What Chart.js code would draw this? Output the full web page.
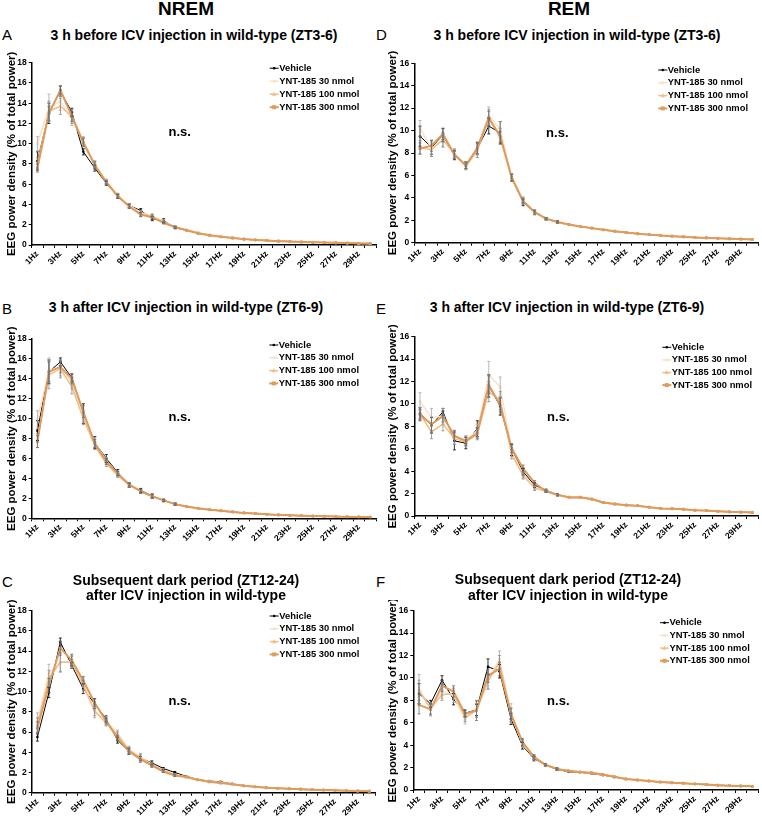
<!DOCTYPE html>
<html>
<head>
<meta charset="utf-8">
<script src="https://cdn.jsdelivr.net/npm/chart.js@4.4.1/dist/chart.umd.min.js"></script>
<style>
body { margin: 0; background: #fff; width: 762px; height: 821px; position: relative; overflow: hidden; font-family: "Liberation Sans", Arial, sans-serif; color: #000; }
canvas { position: absolute; }
.t { position: absolute; white-space: nowrap; z-index: 2; }
.head { font-weight: bold; font-size: 19px; line-height: 20px; width: 200px; text-align: center; }
.ptitle { font-weight: bold; font-size: 14px; line-height: 16px; width: 400px; text-align: center; }
.letter { font-size: 15px; line-height: 17px; }
</style>
</head>
<body>

<div class="t head" style="left:86px;top:-1px">NREM</div>
<div class="t head" style="left:469px;top:-1px">REM</div>

<div class="t letter" style="left:2px;top:26px">A</div>
<div class="t letter" style="left:376px;top:26px">D</div>
<div class="t letter" style="left:2px;top:300px">B</div>
<div class="t letter" style="left:376px;top:300px">E</div>
<div class="t letter" style="left:2px;top:573px">C</div>
<div class="t letter" style="left:376px;top:573px">F</div>

<div class="t ptitle" style="left:-6px;top:26.5px">3 h before ICV injection in wild-type (ZT3-6)</div>
<div class="t ptitle" style="left:377px;top:26.5px">3 h before ICV injection in wild-type (ZT3-6)</div>
<div class="t ptitle" style="left:-14px;top:299px">3 h after ICV injection in wild-type (ZT6-9)</div>
<div class="t ptitle" style="left:367px;top:299px">3 h after ICV injection in wild-type (ZT6-9)</div>
<div class="t ptitle" style="left:-14px;top:572.5px;line-height:15px">Subsequent dark period (ZT12-24)<br>after ICV injection in wild-type</div>
<div class="t ptitle" style="left:368px;top:571px;line-height:16px">Subsequent dark period (ZT12-24)<br>after ICV injection in wild-type</div>

<script>
const freqLabels = ['1Hz','2Hz','3Hz','4Hz','5Hz','6Hz','7Hz','8Hz','9Hz','10Hz','11Hz','12Hz','13Hz','14Hz','15Hz',
  '16Hz','17Hz','18Hz','19Hz','20Hz','21Hz','22Hz','23Hz','24Hz','25Hz','26Hz','27Hz','28Hz','29Hz','30Hz'];
const seriesNames = ['Vehicle', 'YNT-185 30 nmol', 'YNT-185 100 nmol', 'YNT-185 300 nmol'];
const nremTicksMax = 18;
const remTicksMax = 16;

// A - NREM, 3 h before (ZT3-6)
const nremBeforeVeh = [8.3,13.0,15.2,13.1,9.2,7.6,6.1,4.8,3.9,3.4,2.6,2.4,1.7,1.45,1.15,0.96,0.82,0.7,0.58,0.5,0.44,0.38,0.34,0.3,0.26,0.24,0.22,0.19,0.16,0.14];
const nremBefore30 = [10.0,13.6,14.2,12.4,10.3,7.9,6.3,4.9,3.9,3.2,2.9,2.3,1.8,1.5,1.2,0.98,0.83,0.71,0.6,0.51,0.45,0.39,0.35,0.31,0.27,0.25,0.22,0.2,0.17,0.15];
const nremBefore100 = [8.0,13.2,13.7,12.7,10.2,7.9,6.2,4.9,3.8,3.1,2.8,2.2,1.75,1.47,1.18,0.97,0.82,0.7,0.59,0.51,0.44,0.39,0.34,0.3,0.27,0.24,0.22,0.19,0.17,0.15];
const nremBefore300 = [7.6,13.0,15.3,12.7,10.1,7.9,6.2,4.8,3.8,3.0,2.75,2.2,1.75,1.45,1.17,0.96,0.81,0.69,0.58,0.5,0.44,0.38,0.34,0.3,0.26,0.24,0.22,0.19,0.16,0.14];
const nremBeforeVehErr = [0.9,1.0,0.5,0.4,0.3,0.3,0.2,0.2,0.2,0.2,0.2,0.2,0.1];
const nremBefore30Err = [0.7,1.3,0.9,0.6,0.4,0.3,0.2,0.2,0.2,0.2,0.2,0.2,0.1];
const nremBefore100Err = [0.6,1.0,0.8,0.7,0.4,0.3,0.2,0.2,0.2,0.3,0.2,0.1,0.1];
const nremBefore300Err = [0.4,0.7,0.4,0.5,0.4,0.4,0.2,0.2,0.2,0.2,0.2,0.1,0.1];

// B - NREM, 3 h after (ZT6-9)
const nremAfterVeh = [8.8,14.7,15.7,14.1,10.5,7.6,6.0,4.6,3.3,2.8,2.25,1.8,1.42,1.18,1.0,0.87,0.76,0.64,0.54,0.47,0.4,0.34,0.3,0.26,0.22,0.2,0.17,0.14,0.13,0.11];
const nremAfter30 = [9.9,14.9,15.1,13.6,10.3,7.6,5.8,4.4,3.4,2.7,2.2,1.8,1.42,1.17,1.0,0.86,0.76,0.64,0.54,0.47,0.4,0.34,0.3,0.26,0.22,0.2,0.17,0.14,0.13,0.11];
const nremAfter100 = [7.8,14.4,15.0,13.2,10.0,7.3,5.5,4.3,3.3,2.7,2.2,1.8,1.4,1.16,0.99,0.86,0.75,0.63,0.53,0.46,0.39,0.34,0.3,0.26,0.22,0.2,0.17,0.14,0.13,0.11];
const nremAfter300 = [7.7,14.7,15.2,14.0,10.7,7.5,5.7,4.5,3.4,2.7,2.2,1.8,1.42,1.18,1.0,0.87,0.76,0.64,0.54,0.47,0.4,0.34,0.3,0.26,0.22,0.2,0.17,0.14,0.13,0.11];
const nremAfterVehErr = [1.0,1.2,0.4,0.4,1.0,0.6,0.4,0.3,0.2,0.2,0.2,0.1,0.1];
const nremAfter30Err = [0.9,1.2,0.8,0.6,0.6,0.5,0.3,0.2,0.2,0.2,0.2,0.2,0.1];
const nremAfter100Err = [0.7,1.4,0.9,0.7,0.6,0.4,0.3,0.2,0.2,0.2,0.2,0.1,0.1];
const nremAfter300Err = [0.6,1.0,0.6,0.5,0.6,0.4,0.3,0.2,0.2,0.2,0.2,0.1,0.1];

// C - NREM, dark period (ZT12-24)
const nremDarkVeh = [5.5,9.9,14.9,12.6,10.3,8.8,7.3,5.2,4.1,3.4,2.95,2.4,2.0,1.62,1.32,1.15,1.08,0.88,0.7,0.59,0.5,0.44,0.39,0.35,0.3,0.27,0.23,0.2,0.17,0.14];
const nremDark30 = [7.1,11.8,12.9,13.0,10.9,7.9,7.1,5.9,4.3,3.5,2.8,2.2,1.8,1.55,1.3,1.12,1.0,0.86,0.69,0.58,0.49,0.43,0.39,0.34,0.29,0.26,0.23,0.2,0.17,0.14];
const nremDark100 = [6.7,11.3,12.9,12.9,10.6,8.1,6.9,5.7,4.2,3.5,2.8,2.2,1.8,1.55,1.28,1.1,0.98,0.85,0.68,0.58,0.49,0.43,0.38,0.34,0.29,0.26,0.23,0.2,0.17,0.14];
const nremDark300 = [6.4,10.6,14.3,13.1,11.1,8.9,7.1,5.4,4.1,3.3,2.7,2.1,1.7,1.55,1.27,1.07,0.95,0.84,0.68,0.58,0.49,0.43,0.39,0.35,0.3,0.26,0.23,0.2,0.17,0.14];
const nremDarkVehErr = [0.4,0.5,0.4,0.3,0.5,0.5,0.3,0.3,0.3,0.2,0.2,0.1,0.1];
const nremDark30Err = [0.8,0.9,1.0,0.6,0.5,0.5,0.4,0.3,0.3,0.4,0.2,0.2,0.1];
const nremDark100Err = [0.7,0.8,0.9,0.6,0.5,0.5,0.3,0.3,0.3,0.3,0.2,0.2,0.1];
const nremDark300Err = [0.6,0.7,0.7,0.6,0.4,0.4,0.3,0.3,0.3,0.3,0.2,0.1,0.1];

// D - REM, 3 h before (ZT3-6)
const remBeforeVeh = [9.5,8.5,9.6,7.8,6.9,8.4,10.4,9.8,5.8,3.6,2.7,2.15,1.85,1.62,1.45,1.3,1.15,1.02,0.9,0.8,0.72,0.65,0.58,0.52,0.47,0.43,0.39,0.35,0.32,0.29];
const remBefore30 = [10.2,8.4,9.1,8.0,6.9,8.4,11.3,10.1,5.9,3.8,2.75,2.15,1.85,1.62,1.45,1.3,1.15,1.02,0.9,0.8,0.72,0.65,0.58,0.52,0.47,0.43,0.39,0.35,0.32,0.29];
const remBefore100 = [8.5,8.3,9.2,7.9,6.8,8.2,11.0,9.6,5.8,3.7,2.7,2.1,1.83,1.6,1.44,1.29,1.14,1.01,0.9,0.8,0.71,0.64,0.58,0.52,0.47,0.43,0.39,0.35,0.32,0.29];
const remBefore300 = [8.4,8.65,9.7,7.85,6.9,8.45,11.15,9.45,5.8,3.7,2.75,2.15,1.85,1.62,1.45,1.3,1.15,1.02,0.9,0.8,0.72,0.65,0.58,0.52,0.47,0.43,0.39,0.35,0.32,0.29];
const remBeforeVehErr = [0.9,0.6,0.6,0.4,0.3,0.5,0.7,1.0,0.3,0.3,0.2,0.1,0.1];
const remBefore30Err = [0.7,0.7,0.6,0.4,0.3,0.6,0.8,0.7,0.3,0.3,0.2,0.1,0.1];
const remBefore100Err = [0.6,0.6,0.6,0.4,0.3,0.6,0.7,0.6,0.3,0.3,0.2,0.1,0.1];
const remBefore300Err = [0.5,0.5,0.5,0.3,0.3,0.5,0.7,0.5,0.3,0.2,0.1,0.1,0.1];

// E - REM, 3 h after (ZT6-9)
const remAfterVeh = [9.15,8.1,9.3,6.7,6.5,7.8,11.6,9.8,5.9,3.95,2.75,2.3,1.9,1.65,1.63,1.5,1.22,1.07,0.98,0.92,0.78,0.68,0.65,0.6,0.51,0.48,0.42,0.37,0.35,0.31];
const remAfter30 = [10.2,8.8,8.9,7.0,6.8,7.6,12.6,11.5,5.8,3.7,2.5,2.25,1.9,1.65,1.65,1.5,1.2,1.06,0.97,0.91,0.78,0.68,0.65,0.6,0.51,0.48,0.42,0.37,0.35,0.31];
const remAfter100 = [9.1,7.5,8.2,6.9,6.6,7.3,11.1,10.3,5.5,3.6,2.5,2.2,1.88,1.63,1.62,1.48,1.18,1.05,0.96,0.9,0.77,0.68,0.64,0.59,0.51,0.47,0.42,0.37,0.34,0.31];
const remAfter300 = [9.0,8.2,8.9,7.15,6.7,7.4,11.7,9.9,6.05,4.25,2.95,2.2,1.9,1.68,1.68,1.52,1.2,1.07,0.97,0.92,0.78,0.68,0.65,0.6,0.51,0.48,0.42,0.37,0.35,0.31];
const remAfterVehErr = [0.5,0.7,0.3,0.8,0.5,0.7,1.0,0.8,0.5,0.3,0.2,0.1,0.1];
const remAfter30Err = [0.8,0.8,0.7,0.6,0.4,0.6,1.2,0.9,0.5,0.3,0.2,0.1,0.1];
const remAfter100Err = [0.6,0.6,0.6,0.5,0.4,0.5,0.9,0.8,0.4,0.3,0.2,0.1,0.1];
const remAfter300Err = [0.5,0.6,0.5,0.5,0.4,0.5,0.8,0.6,0.4,0.3,0.2,0.1,0.1];

// F - REM, dark period (ZT12-24)
const remDarkVeh = [8.6,7.7,9.8,8.1,6.85,7.15,11.0,10.6,6.35,3.95,2.8,2.25,1.85,1.62,1.58,1.45,1.33,1.15,0.98,0.89,0.8,0.71,0.65,0.6,0.54,0.48,0.43,0.39,0.36,0.33];
const remDark30 = [9.0,7.2,8.8,8.4,6.3,7.2,9.8,11.7,6.9,4.1,2.9,2.25,1.87,1.7,1.6,1.5,1.38,1.18,0.98,0.89,0.8,0.71,0.65,0.6,0.54,0.48,0.43,0.39,0.36,0.33];
const remDark100 = [8.9,7.3,8.5,8.6,6.5,7.1,9.7,11.4,6.7,4.2,2.9,2.25,1.86,1.7,1.6,1.52,1.38,1.18,0.98,0.89,0.8,0.71,0.65,0.6,0.54,0.48,0.43,0.39,0.36,0.33];
const remDark300 = [7.6,7.2,9.3,8.8,6.8,7.1,10.2,10.8,6.8,4.3,2.95,2.25,1.88,1.72,1.6,1.55,1.38,1.18,0.98,0.89,0.8,0.71,0.65,0.6,0.54,0.48,0.43,0.39,0.36,0.33];
const remDarkVehErr = [0.9,0.3,0.4,0.5,0.3,0.5,0.7,0.6,0.5,0.3,0.2,0.1,0.1];
const remDark30Err = [1.3,0.6,0.6,0.6,0.4,0.7,0.8,0.7,0.8,0.3,0.2,0.1,0.1];
const remDark100Err = [0.9,0.5,0.5,0.5,0.4,0.6,0.7,0.6,0.6,0.3,0.2,0.1,0.1];
const remDark300Err = [0.8,0.5,0.5,0.5,0.3,0.9,0.6,0.6,0.5,0.3,0.2,0.1,0.1];

Chart.defaults.font.family = '"Liberation Sans", Arial, sans-serif';
Chart.defaults.color = '#000';

// look of each series: vehicle, 30, 100, 300 nmol
const lineColors = ['#000000', '#f7e2c9', '#f2be8a', '#de9b5c'];
const barColors = ['#000000', '#a8a8a8', '#8a8a8a', '#6e6e6e'];
const lineWidths = [1, 1.5, 1.5, 2];
const markers = ['circle', 'circle', 'triangle', 'rect'];
const markerSizes = [1.3, 1.5, 2, 2];

function drawMarker(ctx, style, x, y, r) {
    ctx.beginPath();
    if (style == 'rect') {
        ctx.rect(x - r, y - r, 2 * r, 2 * r);
    } else if (style == 'triangle') {
        ctx.moveTo(x, y - r * 1.2);
        ctx.lineTo(x + r * 1.1, y + r * 0.8);
        ctx.lineTo(x - r * 1.1, y + r * 0.8);
        ctx.closePath();
    } else {
        ctx.arc(x, y, r, 0, Math.PI * 2);
    }
    ctx.fill();
}

const errorBars = {
    id: 'errorBars',
    afterDatasetsDraw(chart) {
        const ctx = chart.ctx;
        const yScale = chart.scales.y;
        chart.data.datasets.forEach((ds, i) => {
            const meta = chart.getDatasetMeta(i);
            ctx.save();
            ctx.strokeStyle = ds.errColor;
            ctx.lineWidth = 0.8;
            meta.data.forEach((pt, j) => {
                const e = ds.err[j];
                if (!e) return;
                const top = yScale.getPixelForValue(ds.data[j] + e);
                const bot = yScale.getPixelForValue(ds.data[j] - e);
                ctx.beginPath();
                ctx.moveTo(pt.x, top); ctx.lineTo(pt.x, bot);
                ctx.moveTo(pt.x - 1.5, top); ctx.lineTo(pt.x + 1.5, top);
                ctx.moveTo(pt.x - 1.5, bot); ctx.lineTo(pt.x + 1.5, bot);
                ctx.stroke();
            });
            ctx.restore();
        });
    }
};

// legend + "n.s." drawn inside the plot area
const insideText = {
    id: 'insideText',
    afterDraw(chart, args, opts) {
        const ctx = chart.ctx;
        const a = chart.chartArea;
        ctx.save();
        ctx.font = 'bold 9.4px "Liberation Sans", Arial';
        ctx.textBaseline = 'middle';
        ctx.fillStyle = '#000';
        chart.data.datasets.forEach((ds, i) => {
            const x = a.left + opts.legendX;
            const y = a.top + opts.legendY + i * opts.rowGap;
            ctx.strokeStyle = ds.borderColor;
            ctx.lineWidth = ds.borderWidth;
            ctx.beginPath(); ctx.moveTo(x, y); ctx.lineTo(x + 9, y); ctx.stroke();
            ctx.fillStyle = ds.borderColor;
            drawMarker(ctx, ds.pointStyle, x + 4.5, y, ds.pointRadius);
            ctx.fillStyle = '#000';
            ctx.fillText(ds.label, x + 9.5, y);
        });
        ctx.font = 'bold 13px "Liberation Sans", Arial';
        ctx.textAlign = 'center';
        ctx.fillText('n.s.', a.left + opts.nsX, a.top + opts.nsY);
        ctx.restore();
    }
};

function addPanel(p) {
    const cv = document.createElement('canvas');
    cv.width = p.w; cv.height = p.h;
    cv.style.left = p.x + 'px';
    cv.style.top = p.y + 'px';
    document.body.appendChild(cv);

    const datasets = [];
    for (let i = 0; i < 4; i++) {
        datasets.push({
            label: seriesNames[i],
            data: p.values[i],
            err: p.errors[i],
            errColor: barColors[i],
            borderColor: lineColors[i],
            backgroundColor: lineColors[i],
            pointBackgroundColor: lineColors[i],
            pointBorderColor: lineColors[i],
            borderWidth: lineWidths[i],
            pointStyle: markers[i],
            pointRadius: markerSizes[i],
            pointBorderWidth: 0,
            tension: 0,
            order: 3 - i
        });
    }

    new Chart(cv, {
        type: 'line',
        data: { labels: freqLabels, datasets: datasets },
        options: {
            responsive: false,
            animation: false,
            events: [],
            layout: { padding: { top: p.padTop, right: p.padRight, left: 0, bottom: 0 } },
            plugins: {
                legend: { display: false },
                tooltip: { enabled: false },
                insideText: p.text
            },
            scales: {
                x: {
                    offset: true,
                    grid: { drawOnChartArea: false, tickLength: 3, color: '#000', offset: true },
                    border: { color: '#000', width: 1.5 },
                    ticks: {
                        autoSkip: false, maxRotation: 45, minRotation: 45, padding: 1,
                        font: { size: 8.5, weight: 'bold' },
                        callback: (v, i) => (i % 2 == 0 ? freqLabels[i] : '')
                    },
                    afterFit: (s) => { s.height = p.xAxisH; }
                },
                y: {
                    min: 0, max: p.yMax,
                    grid: { drawOnChartArea: false, tickLength: 3, color: '#000' },
                    border: { color: '#000', width: 1.5 },
                    ticks: { stepSize: 2, padding: 2, font: { size: 8.5, weight: 'bold' } },
                    title: {
                        display: true, text: 'EEG power density (% of total power)',
                        font: { size: 11.5, weight: 'bold' }, padding: { top: 5, bottom: 0 }
                    },
                    afterFit: (s) => { s.width = p.yAxisW; }
                }
            }
        },
        plugins: [errorBars, insideText]
    });
}

addPanel({ x: 0, y: 50, w: 380, h: 225, padTop: 12.7, padRight: 3.3, yAxisW: 31.7, xAxisH: 30, yMax: nremTicksMax,
    values: [nremBeforeVeh, nremBefore30, nremBefore100, nremBefore300],
    errors: [nremBeforeVehErr, nremBefore30Err, nremBefore100Err, nremBefore300Err],
    text: { legendX: 238, legendY: 5.5, rowGap: 13, nsX: 148, nsY: 70 } });

addPanel({ x: 381, y: 50, w: 381, h: 225, padTop: 13.3, padRight: 1, yAxisW: 33.3, xAxisH: 32.3, yMax: remTicksMax,
    values: [remBeforeVeh, remBefore30, remBefore100, remBefore300],
    errors: [remBeforeVehErr, remBefore30Err, remBefore100Err, remBefore300Err],
    text: { legendX: 244, legendY: 6.7, rowGap: 12.8, nsX: 143, nsY: 70 } });

addPanel({ x: 0, y: 325, w: 380, h: 225, padTop: 14, padRight: 3.3, yAxisW: 31.7, xAxisH: 31.7, yMax: nremTicksMax,
    values: [nremAfterVeh, nremAfter30, nremAfter100, nremAfter300],
    errors: [nremAfterVehErr, nremAfter30Err, nremAfter100Err, nremAfter300Err],
    text: { legendX: 237.6, legendY: 6, rowGap: 12.8, nsX: 148, nsY: 78 } });

addPanel({ x: 381, y: 325, w: 381, h: 225, padTop: 11.7, padRight: 2.7, yAxisW: 33.3, xAxisH: 34, yMax: remTicksMax,
    values: [remAfterVeh, remAfter30, remAfter100, remAfter300],
    errors: [remAfterVehErr, remAfter30Err, remAfter100Err, remAfter300Err],
    text: { legendX: 248, legendY: 10.6, rowGap: 12.6, nsX: 144, nsY: 81 } });

addPanel({ x: 0, y: 600, w: 380, h: 221, padTop: 10.7, padRight: 5, yAxisW: 31.7, xAxisH: 28.3, yMax: nremTicksMax,
    values: [nremDarkVeh, nremDark30, nremDark100, nremDark300],
    errors: [nremDarkVehErr, nremDark30Err, nremDark100Err, nremDark300Err],
    text: { legendX: 238, legendY: 5.3, rowGap: 12.8, nsX: 148, nsY: 91 } });

addPanel({ x: 381, y: 600, w: 381, h: 221, padTop: 10.7, padRight: 2, yAxisW: 32.3, xAxisH: 31, yMax: remTicksMax,
    values: [remDarkVeh, remDark30, remDark100, remDark300],
    errors: [remDarkVehErr, remDark30Err, remDark100Err, remDark300Err],
    text: { legendX: 246.7, legendY: 12, rowGap: 12.7, nsX: 145, nsY: 91 } });
</script>
</body>
</html>
